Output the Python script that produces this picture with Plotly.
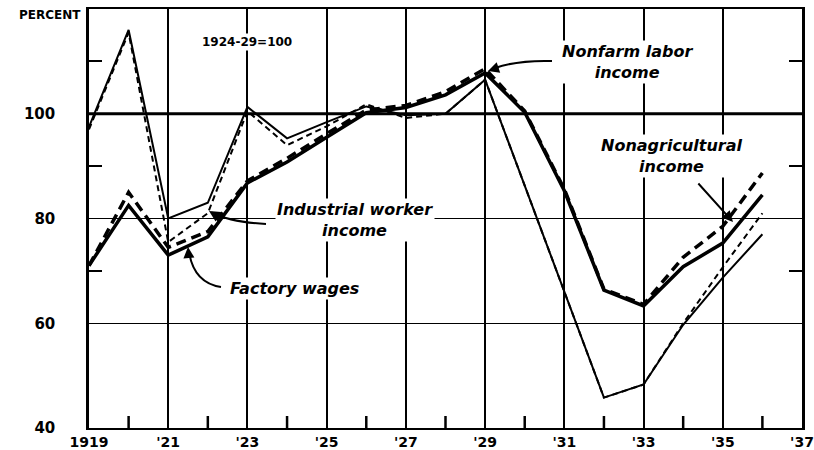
import plotly.graph_objects as go

# ---- data (index, 1924-29 = 100) ----
years = list(range(1919, 1937))
nonfarm_labor_income = [71, 82.5, 73, 76.5, 86.8, 90.8, 95.5, 100.2, 101.2, 103.6, 107.8,
                        100.3, 85.3, 66.3, 63.3, 70.8, 75.3, 84.5]
nonagricultural_income = [71, 85, 74.5, 77.5, 87.2, 91.5, 96.2, 100.7, 101.6, 104.2, 108.6,
                          100.5, 85.6, 66.5, 63.6, 72.6, 78.5, 88.7]
industrial_worker_income = [97.5, 116, 80, 83, 101.3, 95.3, 98.4, 101.4, 99.7, 100, 106.5,
                            86.3, 66.2, 45.8, 48.3, 59.7, 68.7, 77]
factory_wages = [97, 115.5, 75.5, 81, 100.5, 94, 97.6, 101.8, 99.2, 100, 106.5,
                 86.3, 66.2, 45.8, 48.3, 60, 70.7, 81]

x_tickvals = list(range(1919, 1938, 2))
x_ticktext = ["1919", "'21", "'23", "'25", "'27", "'29", "'31", "'33", "'35", "'37"]
x_minor_tickvals = list(range(1920, 1937, 2))
y_tickvals = [40, 60, 80, 100]
y_ticktext = ["40", "60", "80", "100"]
y_minor_tickvals = [70, 90, 110]

FONT = "DejaVu Sans"

# pixel -> data helper for annotation geometry (plot area 89..802 x, 9..428 y)
X0, X1, XP0, XP1 = 1919, 1937, 89, 802
Y0, Y1, YP0, YP1 = 40, 120, 428, 9


def px(xp, yp):
    return (X0 + (xp - XP0) * (X1 - X0) / (XP1 - XP0),
            Y0 + (YP0 - yp) * (Y1 - Y0) / (YP0 - YP1))


fig = go.Figure()
fig.add_trace(go.Scatter(x=years, y=industrial_worker_income, mode="lines",
                         name="Industrial worker income",
                         line=dict(color="black", width=2)))
fig.add_trace(go.Scatter(x=years, y=factory_wages, mode="lines", name="Factory wages",
                         line=dict(color="black", width=2, dash="6px,4px")))
fig.add_trace(go.Scatter(x=years, y=nonfarm_labor_income, mode="lines",
                         name="Nonfarm labor income",
                         line=dict(color="black", width=3.5)))
fig.add_trace(go.Scatter(x=years, y=nonagricultural_income, mode="lines",
                         name="Nonagricultural income",
                         line=dict(color="black", width=3.5, dash="10px,6px")))

fig.update_layout(
    width=814, height=450,
    margin=dict(l=89, r=12, t=9, b=22, autoexpand=False),
    plot_bgcolor="white", paper_bgcolor="white",
    showlegend=False,
    font=dict(family=FONT, color="black"),
)

fig.update_xaxes(
    range=[1919, 1937], tickvals=x_tickvals, ticktext=x_ticktext,
    tickfont=dict(family=FONT, size=14, weight="bold"),
    automargin=False,
    showgrid=True, gridcolor="black", gridwidth=1.5,
    showline=True, linecolor="black", linewidth=2, mirror=True,
    ticks="", zeroline=False,
)
fig.update_yaxes(
    range=[40, 120], tickvals=y_tickvals, ticktext=y_ticktext,
    tickfont=dict(family=FONT, size=15, weight="bold"),
    automargin=False,
    ticklabelstandoff=28,
    showgrid=True, gridcolor="black", gridwidth=1.3,
    showline=True, linecolor="black", linewidth=2.5, mirror="ticks",
    ticks="", zeroline=False,
    minor=dict(tickvals=y_minor_tickvals, ticks="inside", ticklen=13,
               tickwidth=2, tickcolor="black", showgrid=False),
)

# heavier 100 line
fig.add_shape(type="line", xref="paper", x0=0, x1=1, yref="y", y0=100, y1=100,
              line=dict(color="black", width=3), layer="below")

# short inside ticks at even years along the bottom axis (about 12 px tall)
tick_h = 12 * (Y1 - Y0) / (YP0 - YP1)
for yr in x_minor_tickvals:
    fig.add_shape(type="line", xref="x", x0=yr, x1=yr, yref="y", y0=Y0, y1=Y0 + tick_h,
                  line=dict(color="black", width=2.5), layer="above")


def curve(p0, c, p1):
    a, b, d = px(*p0), px(*c), px(*p1)
    return f"M {a[0]},{a[1]} Q {b[0]},{b[1]} {d[0]},{d[1]}"


for p0, c, p1 in [((221, 287), (194, 283), (189, 252)),
                  ((266, 224), (230, 222), (213, 213)),
                  ((552, 61), (518, 60), (495, 68))]:
    fig.add_shape(type="path", path=curve(p0, c, p1), xref="x", yref="y",
                  line=dict(color="black", width=2))

lab_font = dict(family=FONT, size=16, color="black")


def label(text, cx, cy):
    x, y = px(cx, cy)
    fig.add_annotation(x=x, y=y, text=f"<b><i>{text}</i></b>", showarrow=False,
                       font=lab_font, bgcolor="white", xanchor="center", yanchor="middle",
                       borderpad=1)


def head(tx, ty, ax, ay):
    x, y = px(tx, ty)
    fig.add_annotation(x=x, y=y, ax=ax, ay=ay, text="", showarrow=True, arrowhead=2,
                       arrowsize=1.1, arrowwidth=2, arrowcolor="black", standoff=0)


label("Nonfarm labor<br>income", 627, 62)
label("Nonagricultural<br>income", 671, 156)
label("Industrial worker<br>income", 355, 220)
label("Factory wages", 294, 288)

head(188, 247, 1, 12)
head(209, 211, 10, 6)
head(488, 71, 12, -4)
head(733, 222, -36, -40)

x, y = px(247, 42)
fig.add_annotation(x=x, y=y, text="<b>1924-29=100</b>", showarrow=False,
                   font=dict(family=FONT, size=12, color="black"), bgcolor="white",
                   xanchor="center", yanchor="middle")

fig.add_annotation(xref="paper", yref="paper", x=0, y=1, xanchor="right", yanchor="middle",
                   xshift=-6, yshift=-6, text="<b>PERCENT</b>", showarrow=False,
                   font=dict(family=FONT, size=12, color="black"))

fig.write_html("out.html", config={"displayModeBar": False},
               post_script="document.body.style.margin='0';document.body.style.overflow='hidden';")
